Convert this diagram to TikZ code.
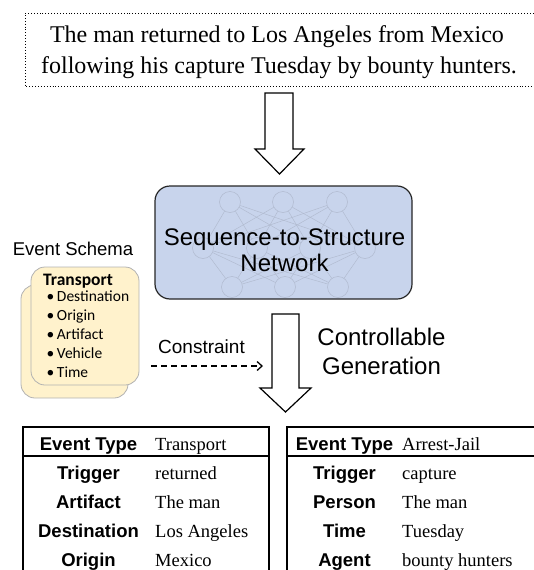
\documentclass[tikz,border=0pt]{standalone}
\usepackage{fontspec}
\setmainfont{Liberation Serif}
\setsansfont{Liberation Sans}
\newfontfamily\schemafont{Carlito}
\usetikzlibrary{arrows.meta}
\definecolor{netblue}{RGB}{200,212,236}
\definecolor{netline}{RGB}{176,186,206}
\definecolor{cardfill}{RGB}{255,242,204}
\definecolor{cardline}{RGB}{178,178,178}
\begin{document}
\begin{tikzpicture}[x=1pt,y=-1pt,
  sent/.style={font=\fontsize{24}{29}\selectfont\rmfamily, inner sep=0pt, anchor=base},
  bigsans/.style={font=\fontsize{24}{29}\selectfont\sffamily, inner sep=0pt, anchor=base},
  midsans/.style={font=\fontsize{18.5}{22}\selectfont\sffamily, inner sep=0pt, anchor=base},
  keytxt/.style={font=\fontsize{18.5}{22}\selectfont\sffamily\bfseries, inner sep=0pt, anchor=base},
  valtxt/.style={font=\fontsize{18.5}{22}\selectfont\rmfamily, inner sep=0pt, anchor=base west},
  schemahead/.style={font=\fontsize{17.5}{21}\selectfont\schemafont\bfseries, inner sep=0pt, anchor=base west},
  schemaitem/.style={font=\fontsize{15.5}{19}\selectfont\schemafont, inner sep=0pt, anchor=base west},
  neuron/.style={circle, draw=netline, line width=0.5pt, minimum size=21pt, inner sep=0pt},
  synapse/.style={draw=netline, line width=0.45pt},
  blockarrow/.style={draw=black, fill=white, line width=1.2pt, line join=miter},
  card/.style={draw=cardline, fill=cardfill, line width=0.8pt, rounded corners=14pt},
  tabline/.style={draw=black, line width=1.4pt},
]
\useasboundingbox (0,0) rectangle (534,570);

% input sentence in dotted frame
\draw[dotted, line width=0.9pt] (545,13) -- (25,13) -- (25,86) -- (545,86);
\node[sent] (s1) at (277,42.5) {The man returned to Los Angeles from Mexico};
\node[sent] (s2) at (279,73) {following his capture Tuesday by bounty hunters.};

% first block arrow
\draw[blockarrow] (265,93) -- (293,93) -- (293,149) -- (304,149) -- (279.5,174)
  -- (255,149) -- (265,149) -- cycle;

% network box
\node[draw=black!85, fill=netblue, line width=1.2pt, rounded corners=15pt,
      minimum width=257pt, minimum height=113pt, inner sep=0pt] (net) at (283.5,242.5) {};
\foreach \n/\x/\y in {t1/230/202, t2/283/202, t3/337/202,
                      m1/203/248, m2/257/248, m3/310/248, m4/365/248,
                      b1/232/287, b2/285/287, b3/338/287}
  \node[neuron] (\n) at (\x,\y) {};
\foreach \a in {t1,t2,t3}
  \foreach \b in {m1,m2,m3,m4}
    \draw[synapse] (\a) -- (\b);
\foreach \a in {m1,m2,m3,m4}
  \foreach \b in {b1,b2,b3}
    \draw[synapse] (\a) -- (\b);
\node[bigsans] (nt1) at (284.5,245.5) {Sequence-to-Structure};
\node[bigsans] (nt2) at (284.5,271) {Network};

% event schema
\node[midsans] (es) at (73,255) {Event Schema};
\node[card, minimum width=107pt, minimum height=113pt] (card2) at (74.5,341.5) {};
\node[card, minimum width=108pt, minimum height=118pt] (card1) at (85,326) {};
\node[schemahead] (sh) at (43,285) {Transport};
\foreach \t/\y in {Destination/301.7, Origin/320.6, Artifact/339.5, Vehicle/358.4, Time/377.3}
  \node[schemaitem] at (46.5,\y) {\textbullet\,\t};

% constraint
\node[midsans, font=\fontsize{19}{22}\selectfont\sffamily] (con) at (201.5,353.5) {Constraint};
\coordinate (cs) at (151,366);
\coordinate (ce) at (263,366);
\draw[dash pattern=on 6pt off 4pt, line width=1.3pt, -{Straight Barb[length=5pt,width=9pt]}] (cs) -- (ce);

% second block arrow
\draw[blockarrow] (272,314) -- (299,314) -- (299,388) -- (311,388) -- (285.5,412)
  -- (260,388) -- (272,388) -- cycle;
\node[bigsans] (cg1) at (381.5,345) {Controllable};
\node[bigsans] (cg2) at (381.5,374) {Generation};

% left table
\draw[tabline] (23,575) -- (23,427) -- (269,427) -- (269,575);
\draw[tabline] (23,456) -- (269,456);
\node[keytxt] (lk0) at (88.5,450) {Event Type};
\node[valtxt] (lv0) at (155,450) {Transport};
\foreach \k/\v/\y in {Trigger/returned/479, Artifact/The man/508.3, Destination/Los Angeles/537.5, Origin/Mexico/566.7}{
  \node[keytxt] at (88.5,\y) {\k};
  \node[valtxt] at (155,\y) {\v};
}

% right table
\draw[tabline] (287,575) -- (287,427) -- (545,427);
\draw[tabline] (287,456) -- (545,456);
\node[keytxt] (rk0) at (344.5,450) {Event Type};
\node[valtxt] (rv0) at (402,450) {Arrest-Jail};
\foreach \k/\v/\y in {Trigger/capture/479, Person/The man/508.3, Time/Tuesday/537.5, Agent/bounty hunters/566.7}{
  \node[keytxt] at (344.5,\y) {\k};
  \node[valtxt] at (402,\y) {\v};
}
\end{tikzpicture}
\end{document}
